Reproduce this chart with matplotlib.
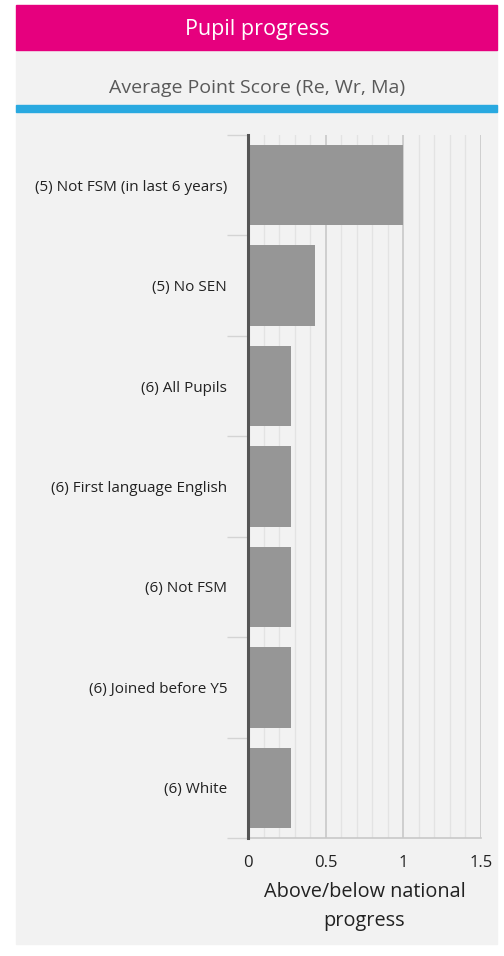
import matplotlib.pyplot as plt
import numpy as np
from matplotlib.patches import Rectangle
from matplotlib.ticker import MultipleLocator, FixedLocator

plt.rcParams['font.family'] = ['Open Sans', 'DejaVu Sans']

categories = ['(5) Not FSM (in last 6 years)', '(5) No SEN', '(6) All Pupils',
              '(6) First language English', '(6) Not FSM', '(6) Joined before Y5',
              '(6) White']
values = [1.0, 0.43, 0.28, 0.28, 0.28, 0.28, 0.28]
xticks = [0, 0.5, 1, 1.5]
xticklabels = ['0', '0.5', '1', '1.5']

W, H = 504, 956
fig = plt.figure(figsize=(W / 100, H / 100), dpi=100)
fig.patch.set_facecolor('white')

def px(x0, y0, x1, y1):
    # pixel box (top-left origin) -> figure rect
    return [x0 / W, 1 - y1 / H, (x1 - x0) / W, (y1 - y0) / H]

# panel background, header, blue rule
fig.patches.append(Rectangle((16 / W, 1 - 944 / H), (497 - 16) / W, (944 - 50) / H,
                             transform=fig.transFigure, color='#f2f2f2', zorder=-5))
fig.patches.append(Rectangle((16 / W, 1 - 50 / H), (497 - 16) / W, 45 / H,
                             transform=fig.transFigure, color='#e6007e', zorder=1))
fig.patches.append(Rectangle((16 / W, 1 - 112 / H), (497 - 16) / W, 7 / H,
                             transform=fig.transFigure, color='#29a9e0', zorder=1))
fig.text(257 / W, 1 - 29 / H, 'Pupil progress', color='white', fontsize=15.5,
         ha='center', va='center')
fig.text(257 / W, 1 - 88 / H, 'Average Point Score (Re, Wr, Ma)', color='#595959',
         fontsize=14, ha='center', va='center')

ax = fig.add_axes(px(248, 135, 481, 838))
ax.set_facecolor('#f2f2f2')
y = np.arange(len(categories))
ax.barh(y, values, height=0.8, color='#969696', zorder=3)
ax.set_xlim(0, 1.5)
ax.set_ylim(len(categories) - 0.5, -0.5)

ax.xaxis.set_major_locator(FixedLocator(xticks))
ax.set_xticklabels(xticklabels, fontsize=12, color='#222222')
ax.xaxis.set_minor_locator(MultipleLocator(0.1))
ax.grid(axis='x', which='major', color='#c8c8c8', linewidth=1.2, zorder=1)
ax.grid(axis='x', which='minor', color='#e3e3e3', linewidth=1, zorder=1)
ax.tick_params(axis='x', which='both', length=0, pad=12)

ax.set_yticks(y)
ax.set_yticklabels(categories, fontsize=11, color='#222222')
ax.yaxis.set_minor_locator(FixedLocator(np.arange(-0.5, len(categories), 1)))
ax.tick_params(axis='y', which='major', length=0, pad=15)
ax.tick_params(axis='y', which='minor', length=15, width=1, color='#d4d4d4')

for s in ['top', 'right']:
    ax.spines[s].set_visible(False)
ax.spines['left'].set_color('#555555')
ax.spines['left'].set_linewidth(2.2)
ax.spines['left'].set_zorder(4)
ax.spines['bottom'].set_color('#c8c8c8')
ax.spines['bottom'].set_linewidth(1.2)

ax.set_xlabel('Above/below national\nprogress', fontsize=14.3, color='#222222',
              labelpad=8, linespacing=1.6)

fig.savefig('out.png', dpi=100, facecolor=fig.get_facecolor())
